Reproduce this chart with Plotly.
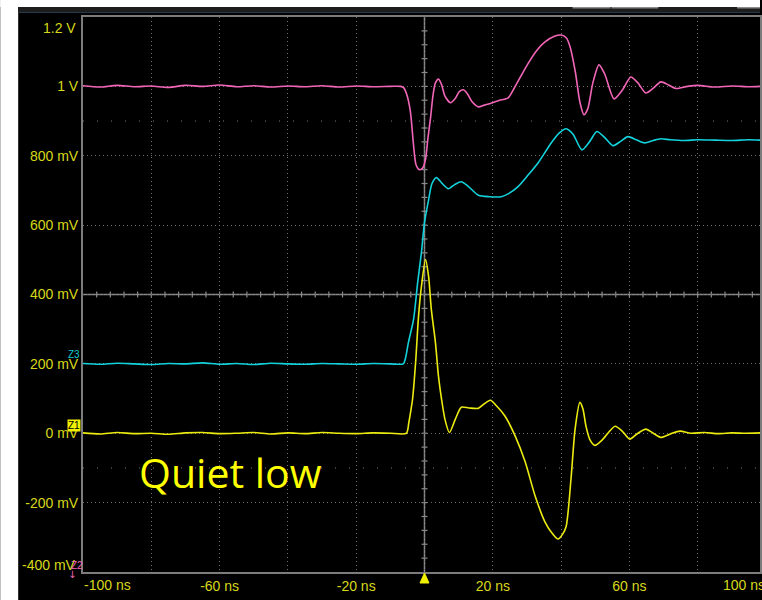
import plotly.graph_objects as go

# ---- waveform samples (time in ns, level in mV) ----
z2_t = [-100, -95, -90, -85, -80, -75, -70, -65, -60, -55, -50, -45, -40, -35, -30, -25,
        -20, -15, -10, -7, -6, -5, -4.1, -3.2, -2.5, -1.5, -0.5, 0.3, 1.0, 1.8, 2.5, 3.2,
        4.1, 5.0, 6.0, 7.6, 9.0, 10.2, 11.4, 12.6, 14.0, 15.8, 17.5, 19.9, 22, 24.5, 26.5,
        30.4, 33, 35.3, 38.2, 40.0, 41.5, 42.6, 44.2, 45.5, 46.7, 47.8, 49.3, 51.1, 52.8,
        55.5, 58, 60.4, 62.5, 64.8, 67, 69.2, 71.5, 73.6, 77, 80, 85, 90, 95, 98.5]
z2_mv = [1002, 998, 1003, 999, 1001, 997, 1003, 1000, 1004, 999, 1002, 998, 1001, 999, 1002, 998,
         1001, 999, 1000, 1000, 995, 970, 925, 830, 775, 760, 765, 790, 850, 912, 975, 1010,
         1021, 1005, 972, 953, 965, 985, 990, 978, 955, 941, 946, 953, 960, 967, 999,
         1067, 1105, 1128, 1145, 1148, 1140, 1115, 1040, 955, 918, 935, 1010, 1062, 1035,
         964, 990, 1027, 1010, 981, 995, 1013, 1004, 994, 1000, 1003, 998, 1001, 999, 1000]

z3_t = [-100, -95, -90, -85, -80, -75, -70, -65, -60, -55, -50, -45, -40, -35, -30, -25,
        -20, -15, -10, -6.2, -5.6, -4.7, -3.2, -2.0, -0.9, 0.0, 1.2, 2.2, 3.5, 5.0, 7.0,
        9.0, 10.8, 12.8, 15.8, 19.0, 22.5, 24.5, 27.4, 30.4, 33.3, 37.1, 39.5, 41.5, 43.5,
        46.1, 48.3, 50.5, 52.8, 55.2, 57.5, 59.6, 62, 64.5, 67, 69.2, 72, 76, 80, 85, 90,
        95, 98.5]
z3_mv = [201, 199, 202, 200, 198, 201, 200, 203, 199, 201, 198, 202, 200, 199, 201, 200,
         199, 201, 200, 200, 215, 262, 328, 434, 521, 607, 673, 720, 737, 722, 705,
         718, 725, 712, 686, 682, 682, 690, 711, 745, 780, 837, 866, 878, 862,
         817, 840, 870, 852, 829, 842, 855, 846, 837, 844, 849, 846, 844, 846, 845, 844,
         846, 845]

z1_t = [-100, -95, -90, -85, -80, -75, -70, -65, -60, -55, -50, -45, -40, -35, -30, -25,
        -20, -15, -10, -5.3, -4.6, -4.0, -3.5, -2.6, -1.75, -0.9, 0.3, 1.2, 2.0, 3.2, 4.1,
        5.0, 6.0, 7.3, 9.0, 10.8, 13.0, 15.8, 17.5, 19.3, 21.0, 23.6, 26.6, 29.5, 32.4,
        35.3, 37.5, 39.1, 40.5, 41.5, 42.9, 44.1, 45.5, 46.4, 47.3, 48.5, 49.9, 52.0, 55.8,
        58.0, 60.1, 62.5, 64.8, 67.0, 69.2, 72.0, 74.8, 78, 82, 86, 90, 94, 98.5]
z1_mv = [1, -2, 2, -1, 0, -3, 1, 2, -1, 0, 2, -2, 1, -1, 2, 0,
         -1, 1, 0, 0, 30, 65, 98, 204, 337, 423, 501, 452, 357, 262, 164,
         98, 40, 2, 40, 75, 73, 72, 85, 95, 80, 49, -9, -83, -181,
         -256, -290, -305, -290, -268, -132, 12, 89, 70, 20, -20, -35, -20, 20,
         5, -17, 0, 12, 0, -12, -2, 6, 0, 2, -1, 1, 0, 1]

x_ticks = [-80, -60, -40, -20, 0, 20, 40, 60, 80]
x_text = ["", "-60 ns", "", "-20 ns", "", "20 ns", "", "60 ns", ""]
y_ticks = [-200, 0, 200, 400, 600, 800, 1000]
y_text = ["-200 mV", "0 mV", "200 mV", "400 mV", "600 mV", "800 mV", "1 V"]

# ---- canvas geometry ----
W, H = 762, 600
L, T, B = 83, 17, 28
PW, PH = W - L, H - T - B
X_MIN, X_MAX = -100, -100 + 200 * PW / 685.0
Y_MIN, Y_MAX = -400, 1200


def px_x(px):
    return (px - L) / PW


def px_y(py):
    return (H - B - py) / PH


LABEL = "#d8d81a"
GRID = "#6e6e6e"
AXIS = "#8a8a8a"

fig = go.Figure()
fig.add_trace(go.Scatter(x=z2_t, y=z2_mv, mode="lines", line=dict(color="#f266b8", width=1.6,
                         shape="spline", smoothing=0.7), hoverinfo="skip"))
fig.add_trace(go.Scatter(x=z3_t, y=z3_mv, mode="lines", line=dict(color="#12d2dc", width=1.6,
                         shape="spline", smoothing=0.7), hoverinfo="skip"))
fig.add_trace(go.Scatter(x=z1_t, y=z1_mv, mode="lines", line=dict(color="#ecec10", width=1.6,
                         shape="spline", smoothing=0.7), hoverinfo="skip"))

shapes = []
# outer white frame (page margin) and dark title strip
shapes.append(dict(type="rect", xref="paper", yref="paper", x0=px_x(0), x1=px_x(W), y0=px_y(0), y1=px_y(7),
                   fillcolor="white", line_width=0, layer="above"))
shapes.append(dict(type="rect", xref="paper", yref="paper", x0=px_x(0), x1=px_x(18), y0=px_y(0), y1=px_y(H),
                   fillcolor="white", line_width=0, layer="above"))
shapes.append(dict(type="rect", xref="paper", yref="paper", x0=px_x(18), x1=px_x(W), y0=px_y(7), y1=px_y(12),
                   fillcolor="#1d1d1d", line_width=0, layer="above"))
shapes.append(dict(type="line", xref="paper", yref="paper", x0=px_x(18), x1=px_x(W), y0=px_y(12.5), y1=px_y(12.5),
                   line=dict(color="#23394a", width=1), layer="above"))
for a, b in [(574, 612), (613, 660), (739, 762)]:
    shapes.append(dict(type="rect", xref="paper", yref="paper", x0=px_x(a), x1=px_x(b), y0=px_y(7), y1=px_y(8.5),
                       fillcolor="#8c8c8c", line_width=0, layer="above"))

# threshold guides (sparse dots)
for lvl in (900, -100):
    shapes.append(dict(type="line", xref="paper", yref="y", x0=0, x1=1, y0=lvl, y1=lvl,
                       line=dict(color="#7a7a7a", width=1, dash="1px,13px"), layer="below"))

# centre cross with minor ticks
shapes.append(dict(type="line", xref="x", yref="paper", x0=0, x1=0, y0=0, y1=1,
                   line=dict(color=AXIS, width=1.5), layer="below"))
shapes.append(dict(type="line", xref="paper", yref="y", x0=0, x1=1, y0=400, y1=400,
                   line=dict(color=AXIS, width=1.5), layer="below"))
ypx = PH / (Y_MAX - Y_MIN)
xpx = PW / (X_MAX - X_MIN)
for k in range(-50, 50):
    t = 4 * k
    if X_MIN < t < X_MAX:
        shapes.append(dict(type="line", xref="x", yref="y", x0=t, x1=t,
                           y0=400 - 3 / ypx, y1=400 + 3 / ypx, line=dict(color=AXIS, width=1.2), layer="below"))
for k in range(-10, 31):
    v = 40 * k
    if Y_MIN < v < Y_MAX:
        shapes.append(dict(type="line", xref="x", yref="y", y0=v, y1=v,
                           x0=-3 / xpx, x1=3 / xpx, line=dict(color=AXIS, width=1.2), layer="below"))

# trigger position marker just under the time axis
shapes.append(dict(type="path", xref="x", yref="paper", xsizemode="pixel", ysizemode="pixel",
                   xanchor=0, yanchor=0, path="M -4.5,-11 L 4.5,-11 L 0,-1 Z",
                   fillcolor="#f0f000", line=dict(color="#f0f000", width=1), layer="above"))

annotations = [
    dict(text="Quiet low", xref="paper", yref="paper", x=px_x(231), y=px_y(472), showarrow=False,
         font=dict(family="Open Sans", size=41, color="#ffff00"), xanchor="center", yanchor="middle"),
    dict(text="1.2 V", xref="paper", yref="paper", x=px_x(78), y=px_y(28), showarrow=False,
         font=dict(family="Liberation Sans", size=14, color=LABEL), xanchor="right", yanchor="middle"),
    dict(text="-400 mV", xref="paper", yref="paper", x=px_x(78), y=px_y(565), showarrow=False,
         font=dict(family="Liberation Sans", size=14, color=LABEL), xanchor="right", yanchor="middle"),
    dict(text="-100 ns", xref="paper", yref="paper", x=px_x(82), y=px_y(585), showarrow=False,
         font=dict(family="Liberation Sans", size=14, color=LABEL), xanchor="left", yanchor="middle"),
    dict(text="100 ns", xref="paper", yref="paper", x=px_x(723), y=px_y(585), showarrow=False,
         font=dict(family="Liberation Sans", size=14, color=LABEL), xanchor="left", yanchor="middle"),
    dict(text="Z3", xref="paper", yref="paper", x=px_x(74), y=px_y(354), showarrow=False,
         font=dict(family="Liberation Sans", size=10, color="#12c8d4"), xanchor="center", yanchor="middle"),
    dict(text="Z1", xref="paper", yref="paper", x=px_x(74), y=px_y(425), showarrow=False,
         font=dict(family="Liberation Sans", size=10, color="#000000"), bgcolor="#f0f000",
         borderpad=0, xanchor="center", yanchor="middle"),
    dict(text="Z2", xref="paper", yref="paper", x=px_x(77), y=px_y(565), showarrow=False,
         font=dict(family="Liberation Sans", size=10, color="#f266b8"), xanchor="center", yanchor="middle"),
    dict(text="↓", xref="paper", yref="paper", x=px_x(72), y=px_y(574), showarrow=False,
         font=dict(family="DejaVu Sans", size=10, color="#f266b8"), xanchor="center", yanchor="middle"),
]

axis_common = dict(showgrid=True, gridcolor=GRID, gridwidth=1, griddash="1px,3px", zeroline=False,
                   showline=True, linecolor="#7c7c7c", linewidth=2, mirror=True, ticks="",
                   tickfont=dict(family="Liberation Sans", size=14, color=LABEL), fixedrange=True)

fig.update_layout(
    width=W, height=H, margin=dict(l=L, r=0, t=T, b=B),
    paper_bgcolor="#000000", plot_bgcolor="#000000", showlegend=False,
    xaxis=dict(range=[X_MIN, X_MAX], tickmode="array", tickvals=x_ticks, ticktext=x_text, **axis_common),
    yaxis=dict(range=[Y_MIN, Y_MAX], tickmode="array", tickvals=y_ticks, ticktext=y_text, **axis_common),
    shapes=shapes, annotations=annotations,
)

fig.write_html("out.html")
